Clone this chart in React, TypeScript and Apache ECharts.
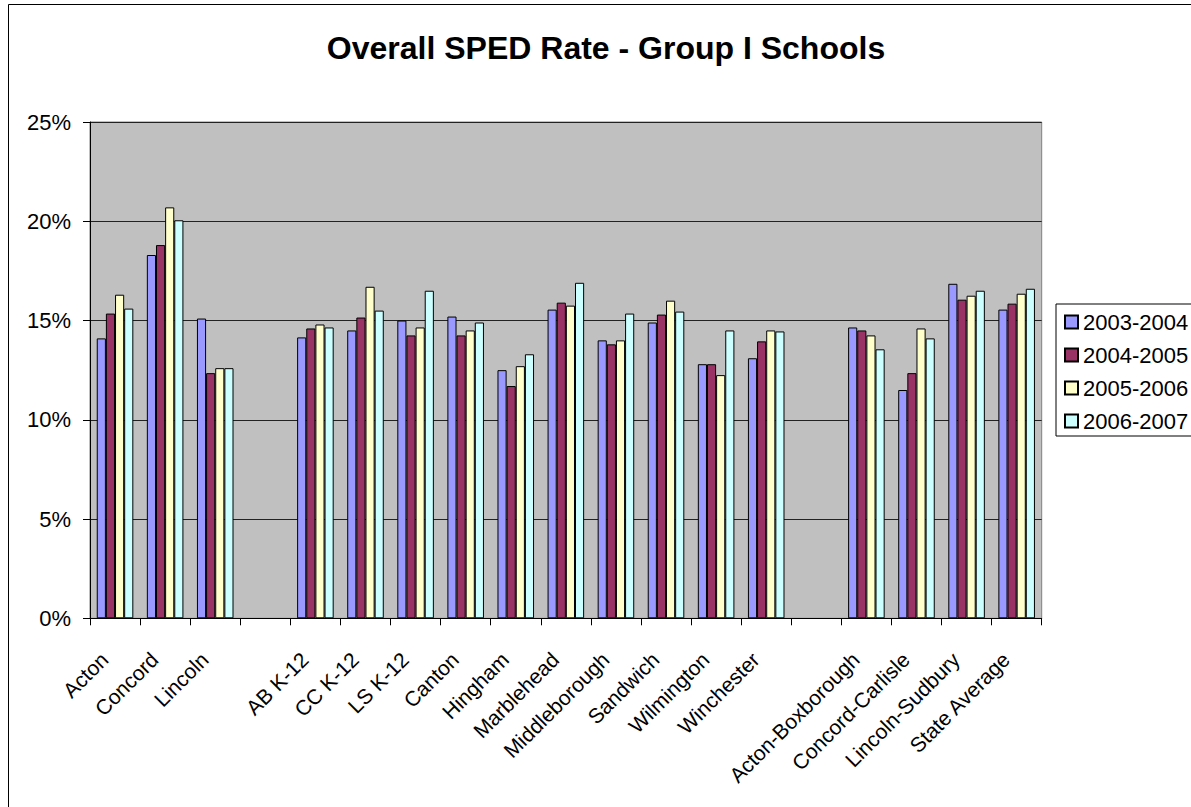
import React, { useEffect, useRef } from "react";
import * as echarts from "echarts";

const titleText = "Overall SPED Rate - Group I Schools";
const categories = [
  "Acton", "Concord", "Lincoln", " ", "AB K-12", "CC K-12", "LS K-12", "Canton",
  "Hingham", "Marblehead", "Middleborough", "Sandwich", "Wilmington", "Winchester",
  "  ", "Acton-Boxborough", "Concord-Carlisle", "Lincoln-Sudbury", "State Average",
];
const seriesNames = ["2003-2004", "2004-2005", "2005-2006", "2006-2007"];
const s2003 = [14.1, 18.3, 15.1, null, 14.15, 14.5, 15.0, 15.2, 12.5, 15.55, 14.0, 14.9, 12.8, 13.1, null, 14.65, 11.5, 16.85, 15.55];
const s2004 = [15.35, 18.8, 12.35, null, 14.6, 15.15, 14.25, 14.25, 11.7, 15.9, 13.8, 15.3, 12.8, 13.95, null, 14.5, 12.35, 16.05, 15.85];
const s2005 = [16.3, 20.7, 12.6, null, 14.8, 16.7, 14.65, 14.5, 12.7, 15.75, 14.0, 16.0, 12.25, 14.5, null, 14.25, 14.6, 16.25, 16.35];
const s2006 = [15.6, 20.05, 12.6, null, 14.65, 15.5, 16.5, 14.9, 13.3, 16.9, 15.35, 15.45, 14.5, 14.45, null, 13.55, 14.1, 16.5, 16.6];
const seriesValues = [s2003, s2004, s2005, s2006];
const colors = ["#9999FF", "#993366", "#FFFFCC", "#CCFFFF"];
const yTicks = { min: 0, max: 25, interval: 5 };

const FONT = "'Liberation Sans', Arial, sans-serif";

export default function App() {
  const ref = useRef<HTMLDivElement>(null);
  useEffect(() => {
    if (!ref.current) return;
    const chart = echarts.init(ref.current, null, { renderer: "svg" });
    chart.setOption({
      animation: false,
      backgroundColor: "#ffffff",
      textStyle: { fontFamily: FONT },
      graphic: [
        {
          type: "rect",
          shape: { x: 8.5, y: 4.5, width: 1400, height: 1000 },
          style: { fill: "none", stroke: "#000", lineWidth: 1 },
          z: 100,
        },
        {
          type: "text",
          x: 606,
          y: 47.5,
          style: {
            text: titleText,
            font: `bold 32px ${FONT}`,
            fill: "#000",
            align: "center",
            verticalAlign: "middle",
          },
        },
      ],
      legend: {
        orient: "vertical",
        left: 1056,
        top: 304,
        padding: [7, 10, 4, 8],
        borderColor: "#000",
        borderWidth: 1,
        backgroundColor: "#fff",
        itemWidth: 13,
        itemHeight: 13,
        itemGap: 11,
        icon: "rect",
        textStyle: { fontSize: 22, lineHeight: 22, color: "#000", fontFamily: FONT },
        data: seriesNames,
      },
      grid: {
        left: 90,
        top: 122,
        right: 149.3,
        bottom: 188.7,
        show: true,
        backgroundColor: "#C0C0C0",
        borderColor: "#808080",
        borderWidth: 1,
      },
      xAxis: {
        type: "category",
        data: categories,
        axisLine: { show: true, lineStyle: { color: "#000", width: 1 } },
        axisTick: { show: true, length: 7, alignWithLabel: false, lineStyle: { color: "#000" } },
        axisLabel: {
          interval: 0,
          rotate: 45,
          margin: 27,
          padding: [0, 15, 0, 0],
          fontSize: 21,
          color: "#000",
          fontFamily: FONT,
        },
        splitLine: { show: false },
      },
      yAxis: {
        type: "value",
        min: yTicks.min,
        max: yTicks.max,
        interval: yTicks.interval,
        axisLine: { show: true, lineStyle: { color: "#000", width: 1 } },
        axisTick: { show: true, length: 7, lineStyle: { color: "#000" } },
        axisLabel: {
          formatter: "{value}%",
          margin: 19,
          fontSize: 22,
          color: "#000",
          fontFamily: FONT,
        },
        splitLine: { show: true, lineStyle: { color: "#222", width: 1 } },
      },
      series: seriesNames.map((name, i) => ({
        name,
        type: "bar",
        data: seriesValues[i],
        barGap: "0%",
        barCategoryGap: "27%",
        itemStyle: { color: colors[i], borderColor: "#000", borderWidth: 1 },
      })),
    });
    return () => chart.dispose();
  }, []);
  return (
    <div
      ref={ref}
      style={{ position: "fixed", left: 0, top: 0, width: 1191, height: 807, background: "#fff" }}
    />
  );
}
